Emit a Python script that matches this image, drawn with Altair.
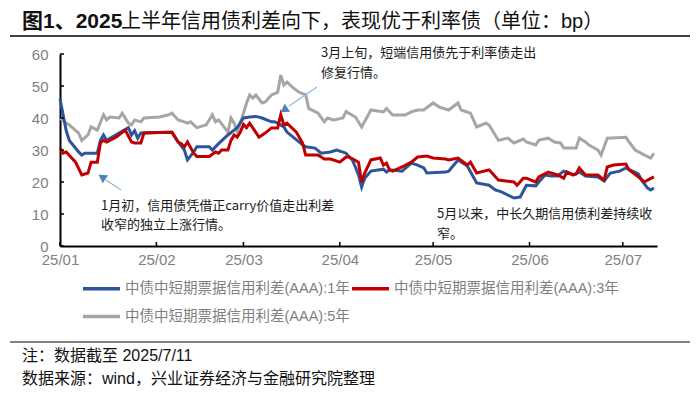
import altair as alt
import pandas as pd

S1 = "中债中短期票据信用利差(AAA):1年"
S3 = "中债中短期票据信用利差(AAA):3年"
S5 = "中债中短期票据信用利差(AAA):5年"

blue_dates = ["01-01", "01-03", "01-04", "01-07", "01-08", "01-09", "01-13", "01-14", "01-15", "01-16",
              "01-20", "01-23", "01-24", "01-25", "01-26", "01-27", "02-02", "02-06", "02-08", "02-10",
              "02-11", "02-13", "02-14", "02-18", "02-19", "02-21", "02-24", "02-26", "02-27", "03-01",
              "03-03", "03-05", "03-07", "03-10", "03-11", "03-12", "03-14", "03-15", "03-17", "03-20",
              "03-21", "03-24", "03-26", "03-29", "03-31", "04-03", "04-04", "04-05", "04-06", "04-07",
              "04-08", "04-09", "04-11", "04-15", "04-16", "04-17", "04-21", "04-24", "04-26", "04-28",
              "04-29", "05-05", "05-06", "05-09", "05-12", "05-15", "05-19", "05-21", "05-23", "05-27",
              "05-29", "05-31", "06-03", "06-04", "06-06", "06-08", "06-10", "06-12", "06-13", "06-15",
              "06-17", "06-19", "06-23", "06-25", "06-27", "06-30", "07-02", "07-06", "07-07", "07-09",
              "07-10", "07-11"]
blue_vals = [46, 36, 33, 29.4, 28.4, 29, 29, 33, 34.7, 33,
             35.3, 37, 34.7, 36, 33.7, 35.3, 35.5, 35.5, 32.5, 30,
             26.9, 29.4, 31, 31, 30, 32, 34.7, 36.2, 37, 40,
             40.3, 40.5, 40, 38.8, 38.8, 38.4, 37.2, 35.6, 34, 31.6,
             31, 30.6, 29, 29.4, 30, 29, 27.8, 26.9, 24.7, 22.2,
             18.4, 21.2, 23.4, 24, 23.1, 23.8, 23.4, 25.9, 25.3, 24.4,
             22.8, 23.1, 23.4, 26.9, 25, 19.7, 19, 17.5, 16.9, 15,
             15.3, 19, 18.8, 20, 22.2, 21.9, 21.9, 23.4, 23.1, 22.2,
             23.1, 21.9, 21.6, 20.3, 22.8, 23.4, 24.4, 22.5, 20.6, 18.1,
             17.5, 18.1]

red_dates = ["01-01", "01-02", "01-03", "01-06", "01-08", "01-10", "01-11", "01-13", "01-14", "01-15",
             "01-16", "01-19", "01-22", "01-24", "01-25", "01-27", "01-28", "02-06", "02-08", "02-09",
             "02-10", "02-11", "02-13", "02-14", "02-18", "02-20", "02-21", "02-22", "02-24", "02-25",
             "02-26", "02-27", "02-28", "03-01", "03-02", "03-03", "03-06", "03-08", "03-10", "03-12",
             "03-13", "03-14", "03-15", "03-18", "03-20", "03-21", "03-25", "03-26", "03-27", "03-29",
             "04-01", "04-03", "04-04", "04-07", "04-08", "04-09", "04-11", "04-14", "04-15", "04-16",
             "04-17", "04-18", "04-21", "04-24", "04-26", "04-29", "05-01", "05-05", "05-06", "05-09",
             "05-12", "05-13", "05-15", "05-19", "05-22", "05-27", "05-28", "05-30", "05-31", "06-03",
             "06-04", "06-07", "06-10", "06-12", "06-13", "06-15", "06-16", "06-17", "06-19", "06-23",
             "06-25", "06-26", "06-28", "07-02", "07-03", "07-06", "07-08", "07-09", "07-11"]
red_vals = [30.6, 29, 29.4, 26.2, 22.2, 22.8, 26.2, 26.2, 32.2, 33,
            32.5, 34, 36.2, 32.5, 32.2, 32.2, 35.3, 35.6, 32.5, 32,
            31, 32.5, 29, 28, 28, 29.4, 29, 30, 30, 33,
            34.7, 34, 35.6, 38, 37, 38.4, 34, 35.3, 36.9, 36.9,
            41, 37.8, 38.4, 35.6, 32.2, 28.4, 28.4, 27.8, 27.2, 27.2,
            26.2, 27.8, 27.8, 26.2, 20, 22.8, 26.9, 27.5, 25.3, 25.9,
            23.8, 23.4, 24.7, 26.2, 27.8, 28.1, 27.5, 27.2, 26.9, 27.5,
            25.3, 26.2, 22.8, 23.8, 20.6, 20, 19, 21.2, 21.2, 20,
            21.6, 23.1, 22.2, 21.2, 23.1, 22.2, 22.5, 24.4, 22.2, 22.2,
            20.6, 24.7, 25.3, 25.6, 23.8, 21.6, 20, 20.6, 21.6]

gray_dates = ["01-01", "01-03", "01-04", "01-07", "01-08", "01-10", "01-11", "01-13", "01-15", "01-16",
              "01-17", "01-20", "01-21", "01-23", "01-24", "01-25", "01-27", "01-28", "02-02", "02-05",
              "02-06", "02-08", "02-10", "02-11", "02-12", "02-14", "02-17", "02-19", "02-20", "02-21",
              "02-24", "02-25", "02-26", "02-27", "03-01", "03-02", "03-03", "03-04", "03-05", "03-07",
              "03-08", "03-10", "03-12", "03-13", "03-14", "03-15", "03-17", "03-19", "03-21", "03-22",
              "03-25", "03-27", "03-28", "03-30", "04-02", "04-03", "04-06", "04-08", "04-11", "04-15",
              "04-16", "04-18", "04-22", "04-24", "04-26", "04-28", "05-01", "05-03", "05-06", "05-09",
              "05-10", "05-13", "05-15", "05-18", "05-19", "05-22", "05-25", "05-27", "05-30", "05-31",
              "06-03", "06-04", "06-07", "06-09", "06-11", "06-12", "06-16", "06-17", "06-19", "06-20",
              "06-23", "06-24", "06-26", "07-02", "07-03", "07-05", "07-08", "07-10", "07-11"]
gray_vals = [40, 38.4, 37.8, 35.3, 33, 34.7, 37.2, 36.2, 41, 39.4,
             40.3, 40, 41.5, 38.4, 37.8, 39.4, 38.8, 40, 40.3, 41,
             41.5, 39.4, 38.8, 38.4, 38.8, 37, 37.8, 41, 38.8, 39.4,
             35.6, 40, 38.4, 35.6, 41.5, 44.7, 47.2, 46.2, 47.2, 44.7,
             45, 47.2, 48, 53.4, 50.3, 51.2, 49.4, 48, 47.2, 43,
             41.5, 38.8, 40, 39.4, 40, 42, 40.3, 37.2, 42.5, 41.9,
             43, 40.9, 40.9, 41.9, 42.5, 42.5, 44.7, 43.4, 42.5, 44.7,
             42.5, 41.5, 37.2, 38.4, 37.8, 33, 33.7, 32.2, 33.4, 32.5,
             31.6, 33.1, 33.7, 32.5, 32.2, 30.6, 30.6, 33.7, 32.5, 31.6,
             30, 28.4, 33.7, 34, 32.5, 30, 28.4, 27.5, 29]

month_ticks = ["01-01", "02-01", "03-01", "04-01", "05-01", "06-01", "07-01"]
y_ticks = [0, 10, 20, 30, 40, 50, 60]

COLORS = ["#2E559B", "#C00000", "#A6A6A6"]
FONT = "Liberation Sans, Noto Sans CJK SC"
CJK = "Noto Sans CJK SC"


def frame(name, dates, vals):
    return pd.DataFrame({"date": ["2025-" + d for d in dates], "value": vals, "series": name})


df = pd.concat([frame(S5, gray_dates, gray_vals),
                frame(S1, blue_dates, blue_vals),
                frame(S3, red_dates, red_vals)], ignore_index=True)

W, H = 597, 192

x_scale = alt.Scale(type="utc", domain=[alt.DateTime(year=2025, month=1, date=1, utc=True),
                                        alt.DateTime(year=2025, month=7, date=12, utc=True)])
y_scale = alt.Scale(domain=[0, 60])

tick_vals = [alt.DateTime(year=2025, month=int(m[:2]), date=1, utc=True) for m in month_ticks]

x_axis = alt.Axis(values=tick_vals, format="%y/%m", title=None, grid=False, ticks=False,
                  domainColor="#000000", domainWidth=2, labelFont=FONT, labelFontSize=15,
                  labelColor="#7f7f7f", labelPadding=6, labelFlush=False, labelOverlap=False)
y_axis = alt.Axis(values=y_ticks, title=None, grid=False, ticks=False, labelOverlap=False,
                  domainColor="#000000", domainWidth=2, labelFont=FONT, labelFontSize=15,
                  labelColor="#7f7f7f", labelPadding=12)

lines = alt.Chart(df).mark_line(strokeWidth=3).encode(
    x=alt.X("date:T", scale=x_scale, axis=x_axis),
    y=alt.Y("value:Q", scale=y_scale, axis=y_axis),
    color=alt.Color("series:N",
                    scale=alt.Scale(domain=[S1, S3, S5], range=COLORS),
                    legend=alt.Legend(title=None, orient="none", legendX=21, legendY=214, columns=2,
                                      direction="horizontal", symbolType="stroke", symbolSize=1369,
                                      symbolStrokeWidth=3.5, labelFont=FONT, labelFontSize=14.5,
                                      labelColor="#7f7f7f", labelLimit=400, columnPadding=-7,
                                      rowPadding=-12, labelOffset=3, padding=0)),
)

xticks = alt.Chart(pd.DataFrame({"date": ["2025-" + m for m in month_ticks]})).mark_rule(
    color="#000000", strokeWidth=1.5).encode(
    x=alt.X("date:T", scale=x_scale, axis=x_axis), y=alt.value(H), y2=alt.value(H - 4))

yticks = alt.Chart(pd.DataFrame({"value": y_ticks})).mark_rule(
    color="#000000", strokeWidth=1.5).encode(
    y=alt.Y("value:Q", scale=y_scale, axis=y_axis), x=alt.value(0), x2=alt.value(4))


def label(text, x, y, size=13, color="#1a1a1a", weight="normal", font=CJK):
    return alt.Chart(pd.DataFrame({"t": [text]})).mark_text(
        align="left", baseline="middle", fontSize=size, color=color, fontWeight=weight, font=font
    ).encode(text="t:N", x=alt.value(x), y=alt.value(y))


def hline(x1, x2, y, color, width):
    return alt.Chart(pd.DataFrame({"k": [0]})).mark_rule(color=color, strokeWidth=width).encode(
        x=alt.value(x1), x2=alt.value(x2), y=alt.value(y))


def arrow(x1, y1, x2, y2, hx, hy, angle):
    shaft = alt.Chart(pd.DataFrame({"k": [0]})).mark_rule(color="#8DB4E2", strokeWidth=1.2).encode(
        x=alt.value(x1), y=alt.value(y1), x2=alt.value(x2), y2=alt.value(y2))
    head = alt.Chart(pd.DataFrame({"k": [0]})).mark_point(
        shape="triangle-up", filled=True, size=90, angle=angle, color="#4F81BD", opacity=1
    ).encode(x=alt.value(hx), y=alt.value(hy))
    return shaft + head


title_bold = label("图1、2025", -38, -32, size=21, color="#111111", weight="bold", font=FONT)
title_rest = label("上半年信用债利差向下，表现优于利率债（单位：bp）", 61, -32, size=20, color="#111111", font=FONT)
top_line = hline(-50, 630, -18, "#404040", 2)
bottom_line = hline(-50, 630, 288, "#595959", 1.5)
note1 = label("注：数据截至 2025/7/11", -38, 302, size=16, color="#111111", font=FONT)
note2 = label("数据来源：wind，兴业证券经济与金融研究院整理", -38, 325, size=16, color="#111111", font=FONT)

ann1a = label("1月初，信用债凭借正carry价值走出利差", 41, 152)
ann1b = label("收窄的独立上涨行情。", 41, 171)
ann2a = label("3月上旬，短端信用债先于利率债走出", 261, -1)
ann2b = label("修复行情。", 261, 19)
ann3a = label("5月以来，中长久期信用债利差持续收", 377, 160)
ann3b = label("窄。", 377, 180)

arrow1 = arrow(257, 33, 229, 52, 224, 56, 236)
arrow2 = arrow(61, 136, 46, 126, 42, 123, 304)

chart = alt.layer(
    lines, xticks, yticks,
    title_bold, title_rest, top_line, bottom_line, note1, note2,
    ann1a, ann1b, ann2a, ann2b, ann3a, ann3b, arrow1, arrow2
).properties(
    width=W, height=H,
    autosize=alt.AutoSizeParams(type="none"),
    padding={"left": 52, "top": 46, "right": 35, "bottom": 144},
    background="white",
).configure_view(stroke=None)

chart.save("out.html", embed_options={"renderer": "svg", "actions": False})
